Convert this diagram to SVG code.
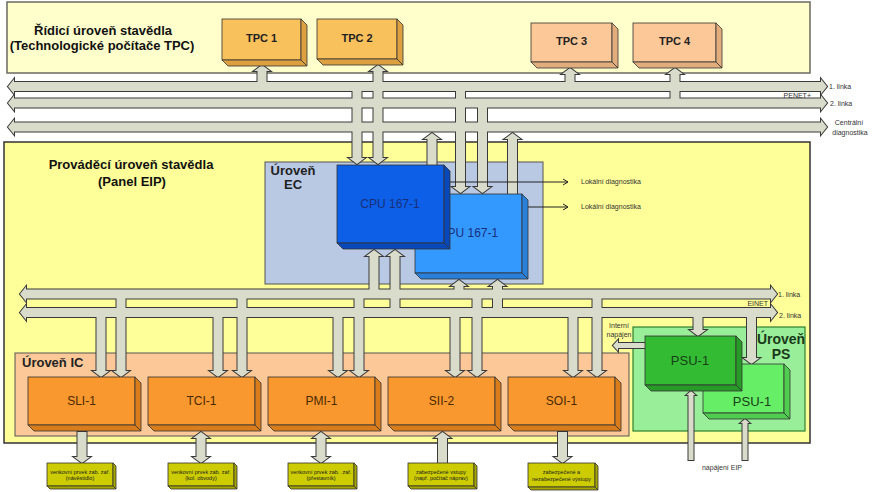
<svg xmlns="http://www.w3.org/2000/svg" xmlns:xlink="http://www.w3.org/1999/xlink" width="892" height="492" viewBox="0 0 892 492">
<style>
.ptop{fill:#ffffcc;stroke:#6a6a60;stroke-width:1.5}
.plow{fill:#ffff99;stroke:#333;stroke-width:1.5}
.lec{fill:#b9c9e3;stroke:#555;stroke-width:1}
.lic{fill:#fcc898;stroke:#555;stroke-width:1}
.lps{fill:#99ee99;stroke:#2f7f2f;stroke-width:1.2}
.cs{fill:none;stroke:#3a3a3a;stroke-width:2;stroke-linejoin:miter}
.cf{fill:#d9dcca;stroke:none}
.bx{stroke:#333;stroke-width:0.8}
.tpcA{fill:#f9c15c}.tpcAs{fill:#dca040}
.tpcB{fill:#fcc897}.tpcBs{fill:#e2ad7c}
.cpu1{fill:#0c5fe6}.cpu1s{fill:#0848b8}
.cpu2{fill:#3399ff}.cpu2s{fill:#2a7fd8}
.ic{fill:#f8982f}.ics{fill:#d97d1c}
.psu1{fill:#33bb33}.psu1s{fill:#279a27}
.psu2{fill:#66ee66}.psu2s{fill:#50cc50}
.ext{fill:#cccc00}.exts{fill:#a6a600}
.ttl{font:bold 13px "Liberation Sans",Arial,sans-serif;fill:#111}
.lvl{font:bold 13px "Liberation Sans",Arial,sans-serif;fill:#222}
.lvlps{font:bold 14px "Liberation Sans",Arial,sans-serif;fill:#1a3a1a}
.tpc{font:bold 11px "Liberation Sans",Arial,sans-serif;fill:#222;text-anchor:middle}
.cpu{font:12px "Liberation Sans",Arial,sans-serif;fill:#1a2f7a;text-anchor:middle}
.mod{font:12px "Liberation Sans",Arial,sans-serif;fill:#4a2a00;text-anchor:middle}
.psu{font:13px "Liberation Sans",Arial,sans-serif;fill:#173f17;text-anchor:middle}
.sm{font:7px "Liberation Sans",Arial,sans-serif;fill:#333}
.xs{font:5.5px "Liberation Sans",Arial,sans-serif;fill:#222;text-anchor:middle}
.diag{stroke:#222;stroke-width:1;fill:none}
</style>
<defs>
<marker id="chev" markerUnits="userSpaceOnUse" markerWidth="8" markerHeight="8" refX="6" refY="4" orient="auto">
<path d="M1,1 L6,4 L1,7" fill="none" stroke="#222" stroke-width="1"/>
</marker>
<g id="pipes">
<!-- PENET+ buses -->
<path d="M8,86.5 L14,79 L14,82 L821,82 L821,79 L827,86.5 L821,94 L821,91 L14,91 L14,94 Z"/>
<path d="M8,103 L14,95.5 L14,98.5 L821,98.5 L821,95.5 L827,103 L821,110.5 L821,107.5 L14,107.5 L14,110.5 Z"/>
<path d="M8,127 L14,119.5 L14,122.5 L821,122.5 L821,119.5 L827,127 L821,134.5 L821,131.5 L14,131.5 L14,134.5 Z"/>
<!-- PENET verticals -->
<path d="M257.5,83 V71 H254 L262,65 L270,71 H266.5 V83 Z"/>
<path d="M378,65 L386,71 H382.5 V158 H386 L378,164 L370,158 H373.5 V71 H370 Z"/>
<path d="M565.5,83 V74 H562 L570,68 L578,74 H574.5 V83 Z"/>
<path d="M670.5,100 V74 H667 L675,68 L683,74 H679.5 V100 Z"/>
<path d="M352.5,90 H361.5 V158 H365 L357,164 L349,158 H352.5 Z"/>
<path d="M456,90 H465 V187 H468.5 L460.5,193 L452.5,187 H456 Z"/>
<path d="M478,107 H487 V187 H490.5 L482.5,193 L474.5,187 H478 Z"/>
<path d="M427.5,166 V139 H424 L432,133 L440,139 H436.5 V166 Z"/>
<path d="M508,195 V139 H504.5 L512.5,133 L520.5,139 H517 V195 Z"/>
<!-- EINET buses -->
<path d="M20,294 L26,286.5 L26,289.5 L771,289.5 L771,286.5 L777,294 L771,301.5 L771,298.5 L26,298.5 L26,301.5 Z"/>
<path d="M20,312.5 L26,305 L26,308 L771,308 L771,305 L777,312.5 L771,320 L771,317 L26,317 L26,320 Z"/>
<!-- CPU to EINET -->
<path d="M369.5,290 V256 H366 L374,250 L382,256 H378.5 V290 Z"/>
<path d="M390.5,309 V256 H387 L395,250 L403,256 H399.5 V309 Z"/>
<path d="M454.5,290 V286 H451 L459,280 L467,286 H463.5 V290 Z"/>
<path d="M493,309 V286 H489.5 L497.5,280 L505.5,286 H502 V309 Z"/>
<!-- EINET to IC modules -->
<path d="M96.5,316 H105.5 V371 H109 L101,377 L93,371 H96.5 Z"/>
<path d="M116.5,297 H125.5 V371 H129 L121,377 L113,371 H116.5 Z"/>
<path d="M213.5,316 H222.5 V371 H226 L218,377 L210,371 H213.5 Z"/>
<path d="M237.5,297 H246.5 V371 H250 L242,377 L234,371 H237.5 Z"/>
<path d="M333.5,316 H342.5 V371 H346 L338,377 L330,371 H333.5 Z"/>
<path d="M354.5,297 H363.5 V371 H367 L359,377 L351,371 H354.5 Z"/>
<path d="M450.5,316 H459.5 V371 H463 L455,377 L447,371 H450.5 Z"/>
<path d="M472.5,297 H481.5 V371 H485 L477,377 L469,371 H472.5 Z"/>
<path d="M568.5,316 H577.5 V371 H581 L573,377 L565,371 H568.5 Z"/>
<path d="M592.5,297 H601.5 V371 H605 L597,377 L589,371 H592.5 Z"/>
<!-- EINET to PSU -->
<path d="M693.5,316 H702.5 V330 H706 L698,336 L690,330 H693.5 Z"/>
<path d="M747,316 H756 V358 H759.5 L751.5,364 L743.5,358 H747 Z"/>
<!-- internal supply -->
<path d="M613,345.5 L618,340 V343 H646 V348 H618 V351 Z"/>
<!-- EIP supply -->
<path d="M688.5,460 V395 H686.5 L691,391 L695.5,395 H693.5 V460 Z"/>
<path d="M742.5,460 V423 H740.5 L745,419 L749.5,423 H747.5 V460 Z"/>
<!-- IC to external -->
<path d="M77.5,432 H86.5 V457 H90 L82,463 L74,457 H77.5 Z"/>
<path d="M201,432 L209,438 H205.5 V457 H209 L201,463 L193,457 H196.5 V438 H193 Z"/>
<path d="M321,432 L329,438 H325.5 V457 H329 L321,463 L313,457 H316.5 V438 H313 Z"/>
<path d="M438,463 V438 H434.5 L442.5,432 L450.5,438 H447 V463 Z"/>
<path d="M558,432 H567 V457 H570.5 L562.5,463 L554.5,457 H558 Z"/>
</g>
</defs>

<!-- backgrounds / levels -->
<g id="level-control">
<rect class="ptop" x="7" y="2" width="803" height="71"/>
<text class="ttl" x="103" y="35" text-anchor="middle">Řídicí úroveň stavědla</text>
<text class="ttl" x="102" y="50" text-anchor="middle">(Technologické počítače TPC)</text>
</g>
<g id="level-exec">
<rect class="plow" x="4" y="142" width="806" height="301"/>
<text class="ttl" x="131" y="169" text-anchor="middle">Prováděcí úroveň stavědla</text>
<text class="ttl" x="132" y="186" text-anchor="middle">(Panel EIP)</text>
</g>
<g id="level-ec">
<rect class="lec" x="265" y="162" width="278" height="122"/>
<text class="lvl" x="293" y="175" text-anchor="middle">Úroveň</text>
<text class="lvl" x="293" y="189" text-anchor="middle">EC</text>
</g>
<g id="level-ic">
<rect class="lic" x="15" y="353" width="614" height="83"/>
<text class="lvl" x="22" y="367">Úroveň IC</text>
</g>
<g id="level-ps">
<rect class="lps" x="633" y="327" width="172" height="104"/>
<text class="lvlps" x="781" y="344" text-anchor="middle">Úroveň</text>
<text class="lvlps" x="781" y="359" text-anchor="middle">PS</text>
</g>

<!-- connectors -->
<g id="connectors">
<use xlink:href="#pipes" href="#pipes" class="cs"/>
<use xlink:href="#pipes" href="#pipes" class="cf"/>
<line class="diag" x1="450" y1="182" x2="568" y2="182" marker-end="url(#chev)"/>
<line class="diag" x1="528" y1="207" x2="568" y2="207" marker-end="url(#chev)"/>
</g>

<!-- TPC nodes -->
<g id="tpc1">
<rect class="bx tpcA" x="222" y="19" width="79" height="41"/>
<polygon class="bx tpcAs" points="301,19 307,25 307,66 301,60"/>
<polygon class="bx tpcAs" points="222,60 301,60 307,66 228,66"/>
<text class="tpc" x="261.5" y="42">TPC 1</text>
</g>
<g id="tpc2">
<rect class="bx tpcA" x="317" y="19" width="80" height="40"/>
<polygon class="bx tpcAs" points="397,19 403,25 403,65 397,59"/>
<polygon class="bx tpcAs" points="317,59 397,59 403,65 323,65"/>
<text class="tpc" x="357" y="42">TPC 2</text>
</g>
<g id="tpc3">
<rect class="bx tpcB" x="531" y="23" width="81" height="39"/>
<polygon class="bx tpcBs" points="612,23 618,29 618,68 612,62"/>
<polygon class="bx tpcBs" points="531,62 612,62 618,68 537,68"/>
<text class="tpc" x="571.5" y="45">TPC 3</text>
</g>
<g id="tpc4">
<rect class="bx tpcB" x="633" y="23" width="83" height="39"/>
<polygon class="bx tpcBs" points="716,23 722,29 722,68 716,62"/>
<polygon class="bx tpcBs" points="633,62 716,62 722,68 639,68"/>
<text class="tpc" x="674.5" y="45">TPC 4</text>
</g>

<!-- CPU nodes -->
<g id="cpu2">
<rect class="bx cpu2" x="415" y="194" width="107" height="79"/>
<polygon class="bx cpu2s" points="522,194 528,200 528,279 522,273"/>
<polygon class="bx cpu2s" points="415,273 522,273 528,279 421,279"/>
<text class="cpu" x="468.5" y="237">CPU 167-1</text>
</g>
<g id="cpu1">
<rect class="bx cpu1" x="337" y="165" width="107" height="78"/>
<polygon class="bx cpu1s" points="444,165 450,171 450,249 444,243"/>
<polygon class="bx cpu1s" points="337,243 444,243 450,249 343,249"/>
<text class="cpu" x="390" y="208">CPU 167-1</text>
</g>

<!-- IC modules -->
<g id="sli1">
<rect class="bx ic" x="28" y="377" width="107" height="48"/>
<polygon class="bx ics" points="135,377 141,383 141,431 135,425"/>
<polygon class="bx ics" points="28,425 135,425 141,431 34,431"/>
<text class="mod" x="81.5" y="405">SLI-1</text>
</g>
<g id="tci1">
<rect class="bx ic" x="148" y="377" width="107" height="48"/>
<polygon class="bx ics" points="255,377 261,383 261,431 255,425"/>
<polygon class="bx ics" points="148,425 255,425 261,431 154,431"/>
<text class="mod" x="201.5" y="405">TCI-1</text>
</g>
<g id="pmi1">
<rect class="bx ic" x="268" y="377" width="107" height="48"/>
<polygon class="bx ics" points="375,377 381,383 381,431 375,425"/>
<polygon class="bx ics" points="268,425 375,425 381,431 274,431"/>
<text class="mod" x="321.5" y="405">PMI-1</text>
</g>
<g id="sii2">
<rect class="bx ic" x="388" y="377" width="107" height="48"/>
<polygon class="bx ics" points="495,377 501,383 501,431 495,425"/>
<polygon class="bx ics" points="388,425 495,425 501,431 394,431"/>
<text class="mod" x="441.5" y="405">SII-2</text>
</g>
<g id="soi1">
<rect class="bx ic" x="508" y="377" width="107" height="48"/>
<polygon class="bx ics" points="615,377 621,383 621,431 615,425"/>
<polygon class="bx ics" points="508,425 615,425 621,431 514,431"/>
<text class="mod" x="561.5" y="405">SOI-1</text>
</g>

<!-- PSU nodes -->
<g id="psu-b">
<rect class="bx psu2" x="703" y="364" width="81" height="49"/>
<polygon class="bx psu2s" points="784,364 790,370 790,419 784,413"/>
<polygon class="bx psu2s" points="703,413 784,413 790,419 709,419"/>
<text class="psu" x="752" y="406">PSU-1</text>
</g>
<g id="psu-a">
<rect class="bx psu1" x="645" y="336" width="91" height="49"/>
<polygon class="bx psu1s" points="736,336 742,342 742,391 736,385"/>
<polygon class="bx psu1s" points="645,385 736,385 742,391 651,391"/>
<text class="psu" x="690" y="365">PSU-1</text>
</g>

<!-- external boxes -->
<g id="ext1">
<rect class="bx ext" x="47" y="463" width="66" height="23"/>
<polygon class="bx exts" points="113,463 116,466 116,489 113,486"/>
<polygon class="bx exts" points="47,486 113,486 116,489 50,489"/>
<text class="xs" x="80" y="473.5">venkovní prvek zab. zař.</text>
<text class="xs" x="80" y="480">(návěstidlo)</text>
</g>
<g id="ext2">
<rect class="bx ext" x="168" y="463" width="66" height="23"/>
<polygon class="bx exts" points="234,463 237,466 237,489 234,486"/>
<polygon class="bx exts" points="168,486 234,486 237,489 171,489"/>
<text class="xs" x="201" y="473.5">venkovní prvek zab. zař.</text>
<text class="xs" x="201" y="480">(kol. obvody)</text>
</g>
<g id="ext3">
<rect class="bx ext" x="288" y="463" width="66" height="23"/>
<polygon class="bx exts" points="354,463 357,466 357,489 354,486"/>
<polygon class="bx exts" points="288,486 354,486 357,489 291,489"/>
<text class="xs" x="321" y="473.5">venkovní prvek zab. .zař.</text>
<text class="xs" x="321" y="480">(přestavník)</text>
</g>
<g id="ext4">
<rect class="bx ext" x="408" y="463" width="66" height="23"/>
<polygon class="bx exts" points="474,463 477,466 477,489 474,486"/>
<polygon class="bx exts" points="408,486 474,486 477,489 411,489"/>
<text class="xs" x="441" y="473.5">zabezpečené  vstupy</text>
<text class="xs" x="441" y="480">(např. počítač náprav)</text>
</g>
<g id="ext5">
<rect class="bx ext" x="528" y="463" width="67" height="24"/>
<polygon class="bx exts" points="595,463 598,466 598,490 595,487"/>
<polygon class="bx exts" points="528,487 595,487 598,490 531,490"/>
<text class="xs" x="561.5" y="474">zabezpečené a</text>
<text class="xs" x="561.5" y="481">nezabezpečené výstupy</text>
</g>

<!-- labels -->
<g id="labels">
<text class="sm" x="829" y="89">1. linka</text>
<text class="sm" x="811" y="98" text-anchor="end">PENET+</text>
<text class="sm" x="830" y="106">2. linka</text>
<text class="sm" x="849" y="125" text-anchor="middle">Centrální</text>
<text class="sm" x="850" y="135" text-anchor="middle">diagnostika</text>
<text class="sm" x="581" y="184">Lokální diagnostika</text>
<text class="sm" x="581" y="209">Lokální diagnostika</text>
<text class="sm" x="778" y="297">1. linka</text>
<text class="sm" x="768" y="306" text-anchor="end">EINET</text>
<text class="sm" x="779" y="318">2. linka</text>
<text class="sm" x="619" y="328" text-anchor="middle">Interní</text>
<text class="sm" x="619" y="337" text-anchor="middle">napájen</text>
<text class="sm" x="722" y="470" text-anchor="middle">napájení EIP</text>
</g>
</svg>
